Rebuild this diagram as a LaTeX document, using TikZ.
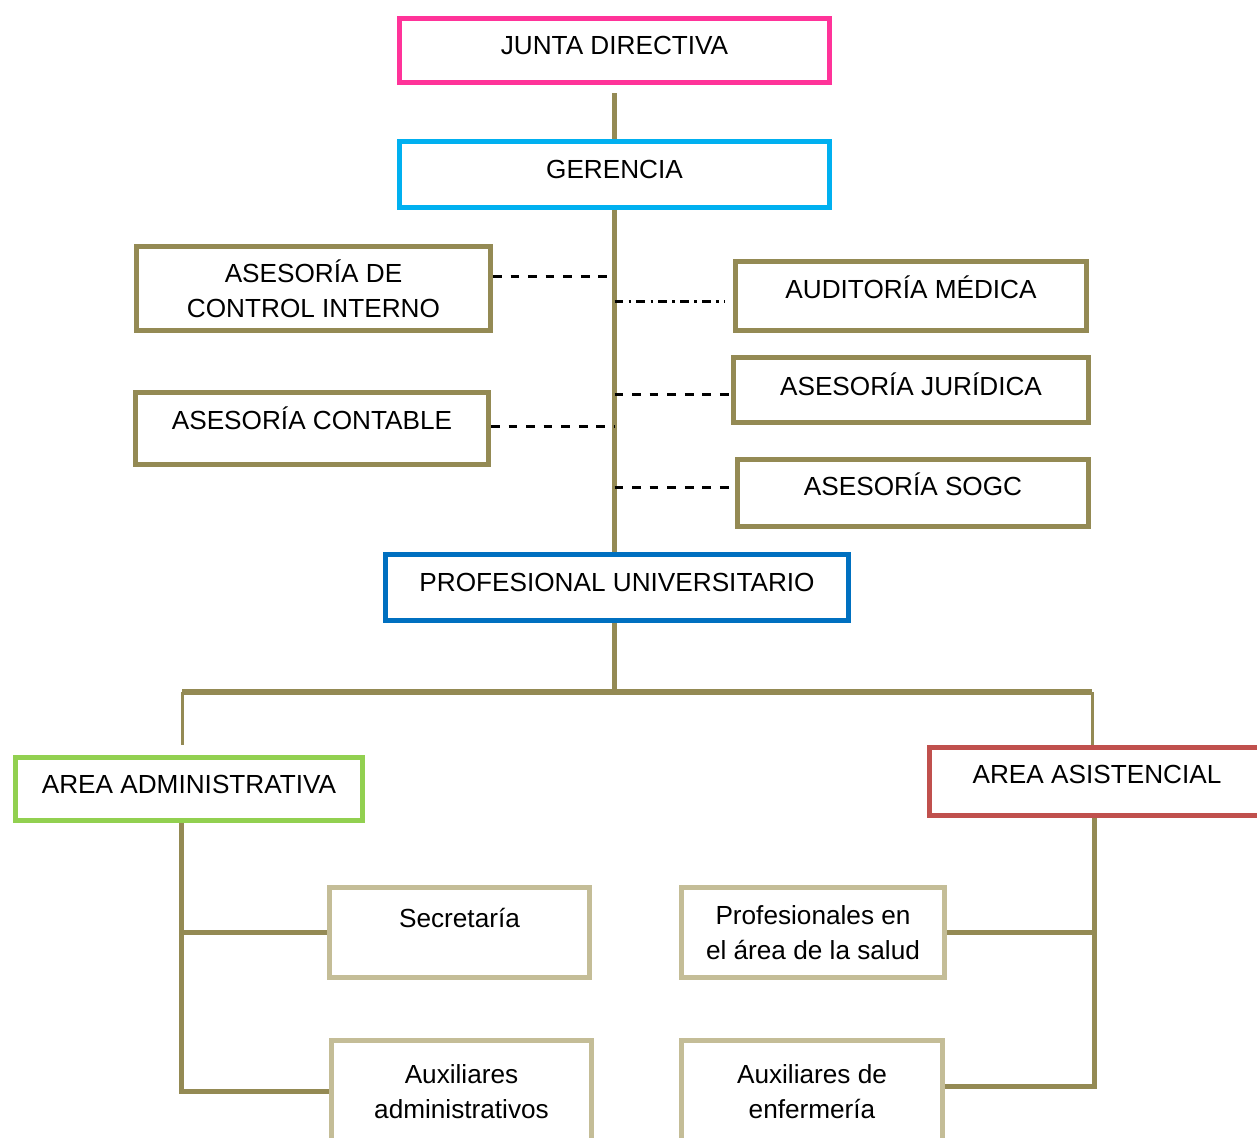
\documentclass[tikz,border=0pt]{standalone}
\usepackage{fontspec}
\setmainfont{Liberation Sans}

\definecolor{juntapink}{HTML}{FF3399}
\definecolor{gerenciacyan}{HTML}{00B0F0}
\definecolor{olivelinea}{HTML}{948A54}
\definecolor{profblue}{HTML}{0070C0}
\definecolor{admingreen}{HTML}{92D050}
\definecolor{asistred}{HTML}{C0504D}
\definecolor{cargotan}{HTML}{C4BD97}

\tikzset{
  box/.style={draw, rectangle, line width=0.1cm, align=center, fill=white,
    font=\fontsize{14.9}{20}\selectfont},
  lift/.style={text height=10.7pt, text depth=#1},
  lift/.default=6pt,
  trunk/.style={draw=olivelinea, line width=0.1cm},
  branch/.style={draw=olivelinea, line width=0.06cm},
  staff/.style={draw=black, line width=0.06cm, dash pattern=on 5pt off 5pt},
  staffdot/.style={draw=black, line width=0.06cm, dash pattern=on 5pt off 3pt on 1.5pt off 3pt}
}

\begin{document}
\begin{tikzpicture}[x=0.02cm, y=-0.02cm]
    \useasboundingbox (0,0) rectangle (1257,1137);
    \clip (0,0) rectangle (1257,1137);

    % Nodes
    \node (junta) [box, lift, draw=juntapink, minimum width=8.6cm, minimum height=1.28cm] at (614.5,50.5) {JUNTA DIRECTIVA};
    \node (gerencia) [box, lift, draw=gerenciacyan, minimum width=8.6cm, minimum height=1.32cm] at (614.5,174.5) {GERENCIA};
    \node (control) [box, draw=olivelinea, minimum width=7.08cm, minimum height=1.68cm] at (313.5,288.5) {ASESORÍA DE\\CONTROL INTERNO};
    \node (auditoria) [box, lift=8pt, draw=olivelinea, minimum width=7.02cm, minimum height=1.38cm] at (911,296) {AUDITORÍA MÉDICA};
    \node (juridica) [box, lift=4.5pt, draw=olivelinea, minimum width=7.1cm, minimum height=1.3cm] at (911,390) {ASESORÍA JURÍDICA};
    \node (contable) [box, lift=9.5pt, draw=olivelinea, minimum width=7.06cm, minimum height=1.44cm] at (312,428.5) {ASESORÍA CONTABLE};
    \node (sogc) [box, lift=8pt, draw=olivelinea, minimum width=7.02cm, minimum height=1.34cm] at (913,493) {ASESORÍA SOGC};
    \node (profesional) [box, lift, draw=profblue, minimum width=9.26cm, minimum height=1.32cm] at (617,587.5) {PROFESIONAL UNIVERSITARIO};
    \node (admin) [box, lift=5.5pt, draw=admingreen, minimum width=6.94cm, minimum height=1.26cm] at (189,789) {AREA ADMINISTRATIVA};
    \node (asistencial) [box, lift=8.5pt, draw=asistred, minimum width=6.7cm, minimum height=1.36cm] at (1097,781.5) {AREA ASISTENCIAL};
    \node (secretaria) [box, lift=16.4pt, draw=cargotan, minimum width=5.2cm, minimum height=1.8cm] at (459.5,932.5) {Secretaría};
    \node (salud) [box, draw=cargotan, minimum width=5.26cm, minimum height=1.8cm] at (813,932.5) {Profesionales en\\el área de la salud};
    \node (auxadm) [box, draw=cargotan, minimum width=5.2cm, minimum height=2.04cm] at (461.5,1091.5) {Auxiliares\\administrativos};
    \node (auxenf) [box, draw=cargotan, minimum width=5.22cm, minimum height=2.04cm] at (812,1091.5) {Auxiliares de\\enfermería};

    % Lines
    \draw[trunk, shorten <=0.16cm] (junta) -- (gerencia);
    \draw[trunk] (gerencia.south) -- (gerencia.south |- profesional.north);
    \coordinate (bus) at (614,692);
    \draw[trunk] (profesional.south -| bus) -- (bus);
    \coordinate (admtop) at ([xshift=-0.14cm, yshift=0.2cm]admin.north);
    \coordinate (asistop) at ([xshift=-0.1cm]asistencial.north);
    \draw[trunk, line width=0.12cm] (admtop |- bus) -- (asistop |- bus);
    \draw[branch] (admtop |- bus) -- (admtop);
    \draw[branch] (asistop |- bus) -- (asistop);

    % Staff lines
    \draw[staff] ([yshift=0.25cm]control.east) -- ([yshift=0.25cm]control.east -| gerencia.south);
    \draw[staffdot, shorten >=0.16cm] ([yshift=-0.1cm]auditoria.west -| gerencia.south) -- ([yshift=-0.1cm]auditoria.west);
    \draw[staff] ([yshift=-0.08cm]juridica.west -| gerencia.south) -- ([yshift=-0.08cm]juridica.west);
    \draw[staff] ([yshift=0.05cm]contable.east) -- ([yshift=0.05cm]contable.east -| gerencia.south);
    \draw[staff] ([yshift=0.12cm]sogc.west -| gerencia.south) -- ([yshift=0.12cm]sogc.west);

    % Areas
    \coordinate (admdrop) at ([xshift=-0.16cm]admin.south);
    \draw[trunk] (admdrop) |- (auxadm.west);
    \draw[trunk] (admdrop |- secretaria.west) -- (secretaria.west);
    \coordinate (asisdrop) at ([xshift=-0.06cm]asistencial.south);
    \draw[trunk] (asisdrop) |- ([yshift=0.1cm]auxenf.east);
    \draw[trunk] (salud.east) -- (salud.east -| asisdrop);
\end{tikzpicture}
\end{document}
